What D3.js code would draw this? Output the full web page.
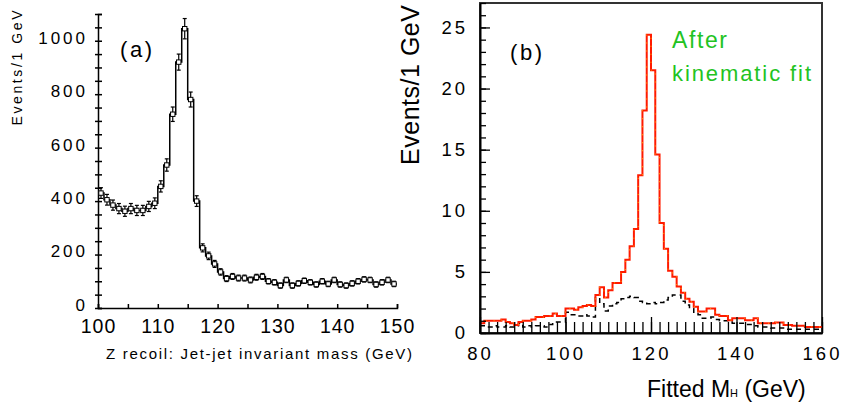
<!DOCTYPE html>
<html>
<head>
<meta charset="utf-8">
<script src="https://cdn.jsdelivr.net/npm/d3@7"></script>
<style>
  html, body { margin: 0; padding: 0; background: #fff; }
  svg { display: block; }
  text { font-family: "Liberation Sans", Arial, Helvetica, sans-serif; fill: #000; }
</style>
</head>
<body>
<script>
// ---------- DATA ----------
// Panel (a): 1 GeV bins, lower edges 100..149
const massA = d3.range(100, 150);
const countsA = [430, 405, 385, 372, 362, 372, 365, 365, 380, 392,
                 455, 535, 725, 920, 1045, 780, 400, 225, 195, 165,
                 135, 110, 118, 112, 112, 105, 115, 118, 100, 96,
                 84, 105, 84, 92, 102, 96, 88, 100, 90, 105,
                 88, 84, 92, 100, 107, 105, 88, 96, 105, 90];
const errA = [20, 20, 19, 19, 19, 19, 19, 19, 19, 20,
              21, 23, 27, 30, 38, 28, 20, 15, 14, 13,
              12, 11, 11, 11, 11, 11, 11, 11, 10, 10,
              10, 10, 10, 10, 10, 10, 10, 10, 10, 10,
              10, 10, 10, 10, 10, 10, 10, 10, 10, 10];
const yTicksA = [0, 200, 400, 600, 800, 1000];
const xTicksA = [100, 110, 120, 130, 140, 150];

// Panel (b): 1 GeV bins, lower edges 80..159
const massB = d3.range(80, 160);
const fitB = [0.8, 1.0, 1.0, 1.0, 1.0, 1.1, 0.9, 0.8, 0.65, 0.9,
              1.0, 1.0, 1.1, 1.3, 1.3, 1.4, 1.4, 1.6, 1.4, 1.4,
              2.0, 2.0, 1.9, 2.1, 2.2, 2.3, 2.2, 3.1, 3.75, 2.9,
              3.5, 4.1, 4.1, 5.0, 6.0, 7.1, 8.5, 12.9, 18.2, 24.4,
              21.5, 14.6, 9.0, 6.9, 5.1, 4.6, 3.8, 3.3, 2.8, 2.55,
              2.15, 1.75, 1.75, 2.0, 2.0, 1.5, 1.4, 1.4, 1.05, 1.2,
              1.2, 1.2, 1.05, 1.05, 1.2, 0.8, 0.8, 0.8, 0.8, 0.85,
              0.85, 0.65, 0.65, 0.6, 0.6, 0.6, 0.5, 0.5, 0.5, 0.5];
const bkgB = [0.6, 0.5, 0.5, 0.6, 0.5, 0.5, 0.6, 0.5, 0.6, 0.8,
              0.5, 0.6, 0.5, 0.6, 0.6, 0.5, 0.7, 0.9, 0.9, 0.9,
              1.7, 1.5, 1.5, 1.4, 1.5, 1.4, 1.3, 2.9, 2.4, 1.8,
              2.2, 2.4, 2.5, 2.8, 2.9, 3.0, 2.9, 2.6, 2.5, 2.4,
              2.5, 2.4, 2.5, 2.7, 2.9, 3.1, 3.1, 2.6, 2.3, 2.0,
              1.6, 1.5, 1.2, 1.2, 1.3, 1.1, 1.0, 1.0, 0.9, 0.8,
              0.8, 0.8, 0.7, 0.7, 0.6, 0.5, 0.5, 0.5, 0.4, 0.4,
              0.4, 0.3, 0.3, 0.3, 0.3, 0.3, 0.3, 0.3, 0.3, 0.3];
const yTicksB = [0, 5, 10, 15, 20, 25];
const xTicksB = [80, 100, 120, 140, 160];

// ---------- CHART ----------
const W = 847, H = 409;
const svg = d3.select("body").append("svg").attr("width", W).attr("height", H);

function stepPath(edges, vals, x, y, width) {
  const pts = edges.map((e, i) => [e, vals[i]]);
  pts.push([edges[edges.length - 1] + width, vals[vals.length - 1]]);
  return d3.line().x(d => x(d[0])).y(d => y(d[1])).curve(d3.curveStepAfter)(pts);
}

// ===== Panel (a) =====
const xa = d3.scaleLinear().domain([100, 150]).range([98, 397]);
const ya = d3.scaleLinear().domain([0, 1100]).range([308, 14]);
const ga = svg.append("g");

// y ticks crossing the axis
ga.append("g").attr("transform", `translate(${xa(100)},0)`)
  .call(d3.axisRight(ya).tickValues(d3.range(0, 1101, 50)).tickSize(4).tickFormat(""))
  .call(g => g.selectAll("line").attr("stroke", "#000").attr("stroke-width", 1.5))
  .call(g => g.select(".domain").attr("stroke", "#000").attr("stroke-width", 1.5));
ga.append("g").attr("transform", `translate(${xa(100)},0)`)
  .call(d3.axisLeft(ya).tickValues(d3.range(0, 1101, 50)).tickSize(3).tickPadding(7)
        .tickFormat(d => yTicksA.includes(d) ? d : ""))
  .call(g => g.select(".domain").remove())
  .call(g => g.selectAll("line").attr("stroke", "#000").attr("stroke-width", 1.5))
  .call(g => g.selectAll("text").attr("y", -3)
        .style("font-family", '"Liberation Sans", Arial, sans-serif')
        .style("font-size", "17px").style("letter-spacing", "3px").attr("fill", "#000"));

// x axis (ticks pointing up)
ga.append("g").attr("transform", `translate(0,${ya(0)})`)
  .call(d3.axisTop(xa).tickValues(d3.range(100, 151, 5)).tickSize(4).tickFormat(""))
  .call(g => g.selectAll("line").attr("stroke", "#000").attr("stroke-width", 1.5))
  .call(g => g.select(".domain").attr("stroke", "#000").attr("stroke-width", 1.5));
ga.append("g").attr("transform", `translate(0,${ya(0)})`)
  .call(d3.axisBottom(xa).tickValues(xTicksA).tickSize(0).tickPadding(11))
  .call(g => g.select(".domain").remove())
  .call(g => g.selectAll("text").style("font-family", '"Liberation Sans", Arial, sans-serif')
        .style("font-size", "19.5px").style("letter-spacing", "1px").attr("fill", "#000"));

// histogram step line
ga.append("path").attr("d", stepPath(massA, countsA, xa, ya, 1))
  .attr("fill", "none").attr("stroke", "#000").attr("stroke-width", 1.5);

// error bars + markers
const pa = ga.append("g").selectAll("g").data(massA.map((m, i) => ({m, v: countsA[i], e: errA[i]})))
  .join("g");
pa.append("line")
  .attr("x1", d => xa(d.m + 0.5)).attr("x2", d => xa(d.m + 0.5))
  .attr("y1", d => ya(d.v - d.e)).attr("y2", d => ya(d.v + d.e))
  .attr("stroke", "#000").attr("stroke-width", 1.2);
pa.append("line")
  .attr("x1", d => xa(d.m + 0.5) - 2).attr("x2", d => xa(d.m + 0.5) + 2)
  .attr("y1", d => ya(d.v + d.e)).attr("y2", d => ya(d.v + d.e))
  .attr("stroke", "#000").attr("stroke-width", 1.2);
pa.append("line")
  .attr("x1", d => xa(d.m + 0.5) - 2).attr("x2", d => xa(d.m + 0.5) + 2)
  .attr("y1", d => ya(d.v - d.e)).attr("y2", d => ya(d.v - d.e))
  .attr("stroke", "#000").attr("stroke-width", 1.2);
pa.append("rect")
  .attr("x", d => xa(d.m + 0.5) - 2.2).attr("y", d => ya(d.v) - 2.2)
  .attr("width", 4.4).attr("height", 4.4)
  .attr("fill", "#fff").attr("stroke", "#000").attr("stroke-width", 1);

// labels (a)
ga.append("text").attr("transform", "translate(22,68) rotate(-90)")
  .attr("text-anchor", "middle").style("font-size", "14px")
  .attr("textLength", 115).attr("lengthAdjust", "spacing").text("Events/1 GeV");
ga.append("text").attr("x", 106).attr("y", 359).style("font-size", "15px")
  .attr("textLength", 306).attr("lengthAdjust", "spacing")
  .text("Z recoil: Jet-jet invariant mass (GeV)");
ga.append("text").attr("x", 120).attr("y", 57).style("font-size", "22px")
  .attr("textLength", 32).attr("lengthAdjust", "spacing").text("(a)");

// ===== Panel (b) =====
const xb = d3.scaleLinear().domain([80, 160]).range([480, 822]);
const yb = d3.scaleLinear().domain([0, 27]).range([333, 3]);
const gb = svg.append("g");

// frame
gb.append("rect").attr("x", xb(80)).attr("y", yb(27))
  .attr("width", xb(160) - xb(80)).attr("height", yb(0) - yb(27))
  .attr("fill", "none").attr("stroke", "#333").attr("stroke-width", 2);

// background (dashed)
gb.append("path").attr("d", stepPath(massB, bkgB, xb, yb, 1))
  .attr("fill", "none").attr("stroke", "#000").attr("stroke-width", 1.5)
  .attr("stroke-dasharray", "5,4");

// signal + background after fit (red)
const redD = stepPath(massB, fitB, xb, yb, 1);
gb.append("path").attr("d", redD)
  .attr("fill", "none").attr("stroke", "#ff1a00").attr("stroke-width", 2);
gb.append("path").attr("d", redD)
  .attr("fill", "none").attr("stroke", "#ffe600").attr("stroke-width", 0.8)
  .attr("stroke-dasharray", "1,7").attr("opacity", 0.9);

// y ticks (inward)
gb.append("g").attr("transform", `translate(${xb(80)},0)`)
  .call(d3.axisRight(yb).tickValues(d3.range(0, 28, 1)).tickSize(6).tickFormat(""))
  .call(g => g.select(".domain").remove())
  .call(g => g.selectAll("line").attr("stroke", "#000").attr("stroke-width", 1.3));
gb.append("g").attr("transform", `translate(${xb(80)},0)`)
  .call(d3.axisRight(yb).tickValues(yTicksB).tickSize(10).tickFormat(""))
  .call(g => g.select(".domain").remove())
  .call(g => g.selectAll("line").attr("stroke", "#000").attr("stroke-width", 1.3));
gb.append("g").attr("transform", `translate(${xb(80)},0)`)
  .call(d3.axisLeft(yb).tickValues(yTicksB).tickSize(0).tickPadding(12))
  .call(g => g.select(".domain").attr("stroke", "#000").attr("stroke-width", 2))
  .call(g => g.selectAll("text").style("font-family", '"Liberation Sans", Arial, sans-serif')
        .style("font-size", "18.5px").style("letter-spacing", "3px").attr("fill", "#000"));

// x ticks (inward)
gb.append("g").attr("transform", `translate(0,${yb(0)})`)
  .call(d3.axisTop(xb).tickValues(d3.range(80, 161, 2)).tickSize(11).tickFormat(""))
  .call(g => g.select(".domain").remove())
  .call(g => g.selectAll("line").attr("stroke", "#000").attr("stroke-width", 1.3));
gb.append("g").attr("transform", `translate(0,${yb(0)})`)
  .call(d3.axisTop(xb).tickValues(xTicksB).tickSize(16).tickFormat(""))
  .call(g => g.select(".domain").remove())
  .call(g => g.selectAll("line").attr("stroke", "#000").attr("stroke-width", 1.3));
gb.append("g").attr("transform", `translate(0,${yb(0)})`)
  .call(d3.axisBottom(xb).tickValues(xTicksB).tickSize(0).tickPadding(14))
  .call(g => g.select(".domain").attr("stroke", "#000").attr("stroke-width", 2))
  .call(g => g.selectAll("text").style("font-family", '"Liberation Sans", Arial, sans-serif')
        .style("font-size", "18.5px").style("letter-spacing", "3px").attr("fill", "#000"));

// labels (b)
gb.append("text").attr("transform", "translate(419,85) rotate(-90)")
  .attr("text-anchor", "middle").style("font-size", "25px")
  .attr("textLength", 160).attr("lengthAdjust", "spacing").text("Events/1 GeV");
const xl = gb.append("text").attr("x", 647).attr("y", 397).style("font-size", "23px");
xl.append("tspan").text("Fitted M");
xl.append("tspan").style("font-size", "11px").text("H");
xl.append("tspan").text(" (GeV)");
gb.append("text").attr("x", 510).attr("y", 60).style("font-size", "22px")
  .attr("textLength", 32).attr("lengthAdjust", "spacing").text("(b)");
gb.append("text").attr("x", 672).attr("y", 48).style("font-size", "23px")
  .style("fill", "#22c322").attr("textLength", 55).attr("lengthAdjust", "spacing").text("After");
gb.append("text").attr("x", 672).attr("y", 81).style("font-size", "22px")
  .style("fill", "#22c322").attr("textLength", 139).attr("lengthAdjust", "spacing").text("kinematic fit");
</script>
</body>
</html>
